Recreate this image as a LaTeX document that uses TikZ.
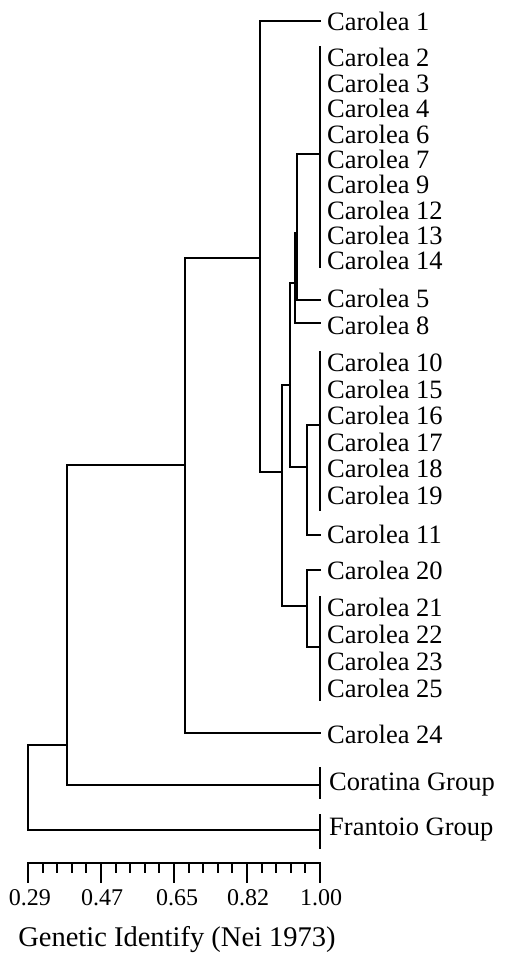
\documentclass[tikz,border=0pt]{standalone}
\usepackage{fontspec}
\setmainfont{Liberation Serif}
\begin{document}
\begin{tikzpicture}[x=1pt,y=-1pt,
  branch/.style={line width=2pt,line cap=rect},
  leaf/.style={anchor=west,inner sep=0pt,font=\fontsize{26.5}{26.5}\selectfont},
  ticklabel/.style={anchor=center,inner sep=0pt,font=\fontsize{24}{24}\selectfont},
  axistitle/.style={anchor=center,inner sep=0pt,font=\fontsize{28.5}{29}\selectfont}]
\useasboundingbox (0,0) rectangle (508,960);

% leaf labels
\node[leaf] (c1)  at (327,21)  {Carolea 1};
\node[leaf] (c2)  at (327,57)  {Carolea 2};
\node[leaf] (c3)  at (327,83)  {Carolea 3};
\node[leaf] (c4)  at (327,108) {Carolea 4};
\node[leaf] (c6)  at (327,134) {Carolea 6};
\node[leaf] (c7)  at (327,159) {Carolea 7};
\node[leaf] (c9)  at (327,184) {Carolea 9};
\node[leaf] (c12) at (327,210) {Carolea 12};
\node[leaf] (c13) at (327,235) {Carolea 13};
\node[leaf] (c14) at (327,260) {Carolea 14};
\node[leaf] (c5)  at (327,298) {Carolea 5};
\node[leaf] (c8)  at (327,325) {Carolea 8};
\node[leaf] (c10) at (327,362) {Carolea 10};
\node[leaf] (c15) at (327,389) {Carolea 15};
\node[leaf] (c16) at (327,415) {Carolea 16};
\node[leaf] (c17) at (327,442) {Carolea 17};
\node[leaf] (c18) at (327,468) {Carolea 18};
\node[leaf] (c19) at (327,495) {Carolea 19};
\node[leaf] (c11) at (327,534) {Carolea 11};
\node[leaf] (c20) at (327,570) {Carolea 20};
\node[leaf] (c21) at (327,607) {Carolea 21};
\node[leaf] (c22) at (327,634) {Carolea 22};
\node[leaf] (c23) at (327,661) {Carolea 23};
\node[leaf] (c25) at (327,688) {Carolea 25};
\node[leaf] (c24) at (327,734) {Carolea 24};
\node[leaf] (cor) at (329,785) {Coratina Group};
\node[leaf] (fra) at (329,830) {Frantoio Group};

% branch tips at identity 1.00
\coordinate (t1)   at (320,21);
\coordinate (tA)   at (320,154);
\coordinate (t5)   at (320,300);
\coordinate (t8)   at (320,323);
\coordinate (tB)   at (320,425);
\coordinate (t11)  at (320,535);
\coordinate (t20)  at (320,570);
\coordinate (tC)   at (320,647);
\coordinate (t24)  at (320,733);
\coordinate (tcor) at (320,785);
\coordinate (tfra) at (320,830);

% bars of clusters with identity 1.00
\coordinate (tAtop) at (320,47);   \coordinate (tAbot) at (320,267);
\coordinate (tBtop) at (320,352);  \coordinate (tBbot) at (320,510);
\coordinate (tCtop) at (320,597);  \coordinate (tCbot) at (320,700);
\coordinate (tcortop) at (320,768); \coordinate (tcorbot) at (320,798);
\coordinate (tfratop) at (320,815); \coordinate (tfrabot) at (320,848);
\draw[branch] (tAtop) -- (tAbot);
\draw[branch] (tBtop) -- (tBbot);
\draw[branch] (tCtop) -- (tCbot);
\draw[branch] (tcortop) -- (tcorbot);
\draw[branch] (tfratop) -- (tfrabot);

% internal nodes
\coordinate (n5)  at (297,233);
\coordinate (n8)  at (295,283);
\coordinate (n11) at (307,467);
\coordinate (na)  at (290,385);
\coordinate (n20) at (307,606);
\coordinate (nb)  at (282,472);
\coordinate (nc)  at (260,258);
\coordinate (nd)  at (185,465);
\coordinate (ne)  at (67,745);
\coordinate (nf)  at (28,790);

\draw[branch] (tA)  -| (n5)  |- (t5);
\draw[branch] (n5)  -| (n8)  |- (t8);
\draw[branch] (tB)  -| (n11) |- (t11);
\draw[branch] (n8)  -| (na)  |- (n11);
\draw[branch] (t20) -| (n20) |- (tC);
\draw[branch] (na)  -| (nb)  |- (n20);
\draw[branch] (t1)  -| (nc)  |- (nb);
\draw[branch] (nc)  -| (nd)  |- (t24);
\draw[branch] (nd)  -| (ne)  |- (tcor);
\draw[branch] (ne)  -| (nf)  |- (tfra);

% scale of genetic identity
\draw[branch] (28,863) -- (320,863);
\foreach \i in {0,...,20}{
  \pgfmathsetmacro{\xx}{28+\i*14.6}
  \pgfmathtruncatemacro{\rr}{mod(\i,5)}
  \ifnum\rr=0
    \draw[branch] (\xx,863) -- (\xx,882);
  \else
    \draw[branch] (\xx,863) -- (\xx,872);
  \fi
}
\node[ticklabel] (l029) at (30,898)  {0.29};
\node[ticklabel] (l047) at (102,898) {0.47};
\node[ticklabel] (l065) at (177,898) {0.65};
\node[ticklabel] (l082) at (248,898) {0.82};
\node[ticklabel] (l100) at (321,898) {1.00};
\node[axistitle] (title) at (177,940) {Genetic Identify (Nei 1973)};
\end{tikzpicture}
\end{document}
